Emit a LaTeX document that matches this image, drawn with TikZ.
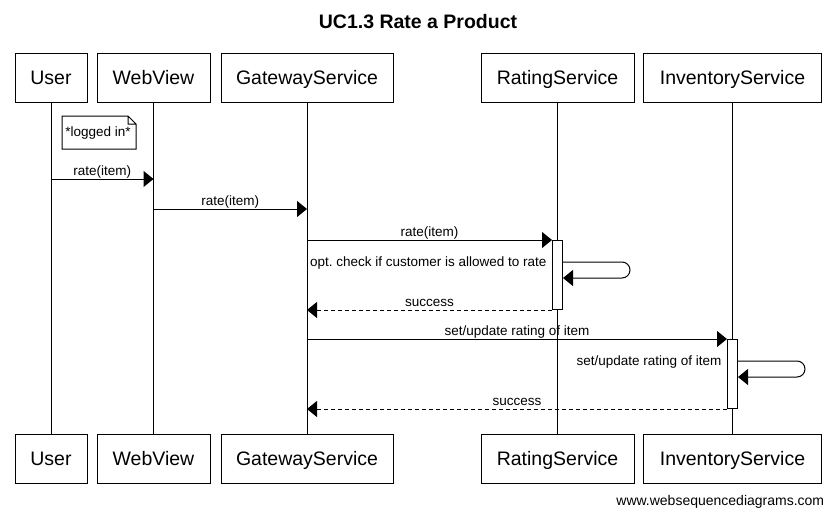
\documentclass[tikz,border=0pt]{standalone}
\usepackage{fontspec}
\setmainfont{Liberation Sans}
\usetikzlibrary{arrows.meta}
\newcommand{\boxheight}{49}
\newcommand{\topy}{77.5}
\newcommand{\boty}{458.5}

\begin{document}
\frenchspacing
\begin{tikzpicture}[x=1pt, y=-1pt, line width=1pt,
    actor/.style = {draw, inner sep=0pt, minimum height=\boxheight pt, text height=18pt, text depth=4pt, font=\fontsize{19.5}{22}\selectfont},
    msg/.style   = {-{Triangle[length=10pt,width=16pt]}},
    reply/.style = {msg, dashed, dash pattern=on 4pt off 3pt},
    lbl/.style   = {font=\fontsize{13.5}{16}\selectfont, inner sep=0pt, text height=10pt, text depth=3pt},
    act/.style   = {draw, fill=white, minimum width=10pt, inner sep=0pt}]
        \useasboundingbox (0,0) rectangle (836,517);
        %title
        \node[font=\fontsize{19.5}{22}\selectfont\bfseries, name=title] at (418,22) {UC1.3 Rate a Product};

        %actors top
        \node[actor, minimum width=72pt , name=user ] at (51   ,\topy) {User};
        \node[actor, minimum width=113pt, name=web  ] at (153.5,\topy) {WebView};
        \node[actor, minimum width=172pt, name=gw   ] at (307  ,\topy) {GatewayService};
        \node[actor, minimum width=153pt, name=rate ] at (557.5,\topy) {RatingService};
        \node[actor, minimum width=178pt, name=inv  ] at (732.5,\topy) {InventoryService};
        %actors bottom
        \node[actor, minimum width=72pt , name=userB] at (51   ,\boty) {User};
        \node[actor, minimum width=113pt, name=webB ] at (153.5,\boty) {WebView};
        \node[actor, minimum width=172pt, name=gwB  ] at (307  ,\boty) {GatewayService};
        \node[actor, minimum width=153pt, name=rateB] at (557.5,\boty) {RatingService};
        \node[actor, minimum width=178pt, name=invB ] at (732.5,\boty) {InventoryService};

        %lifelines
        \draw (user) -- (userB);
        \draw (web) -- (webB);
        \draw (gw) -- (gwB);
        \draw (rate) -- (rateB);
        \draw (inv) -- (invB);

        %activations
        \node[act, minimum height=69pt, anchor=north, name=rateA] at (rate.south |- 0,240) {};
        \node[act, minimum height=69pt, anchor=north, name=invA ] at (inv.south  |- 0,339) {};

        %note
        \draw (62,116) -- (128,116) -- (136,124) -- (136,149) -- (62,149) -- cycle
              (128,116) -- (128,124) -- (136,124);
        \node[lbl, name=note] at (98,133) {*logged in*};

        %messages
        \draw[msg] (user.south |- 0,179) -- node[lbl, above] {rate(item)} (web.south |- 0,179);
        \draw[msg] (web.south |- 0,209) -- node[lbl, above] {rate(item)} (gw.south |- 0,209);
        \draw[msg] (gw.south |- 0,240) -- node[lbl, above] {rate(item)} (rateA.north west);
        \draw[msg, rounded corners=8pt] (rateA.east |- 0,262) -- (630,262) -- (630,278) -- (rateA.east |- 0,278);
        \node[lbl, anchor=east, name=check] at (547,263) {opt. check if customer is allowed to rate};
        \draw[reply] (rateA.south west) -- node[lbl, above] {success} (gw.south |- rateA.south);
        \draw[msg] (gw.south |- 0,339) -- node[lbl, above] {set/update rating of item} (invA.north west);
        \draw[msg, rounded corners=8pt] (invA.east |- 0,361) -- (805,361) -- (805,377) -- (invA.east |- 0,377);
        \node[lbl, anchor=east, name=update] at (722,362) {set/update rating of item};
        \draw[reply] (invA.south west) -- node[lbl, above] {success} (gw.south |- invA.south);

        %footer
        \node[font=\fontsize{14}{16}\selectfont, anchor=east, name=footer] at (828,502) {www.websequencediagrams.com};
    \end{tikzpicture}
\end{document}
